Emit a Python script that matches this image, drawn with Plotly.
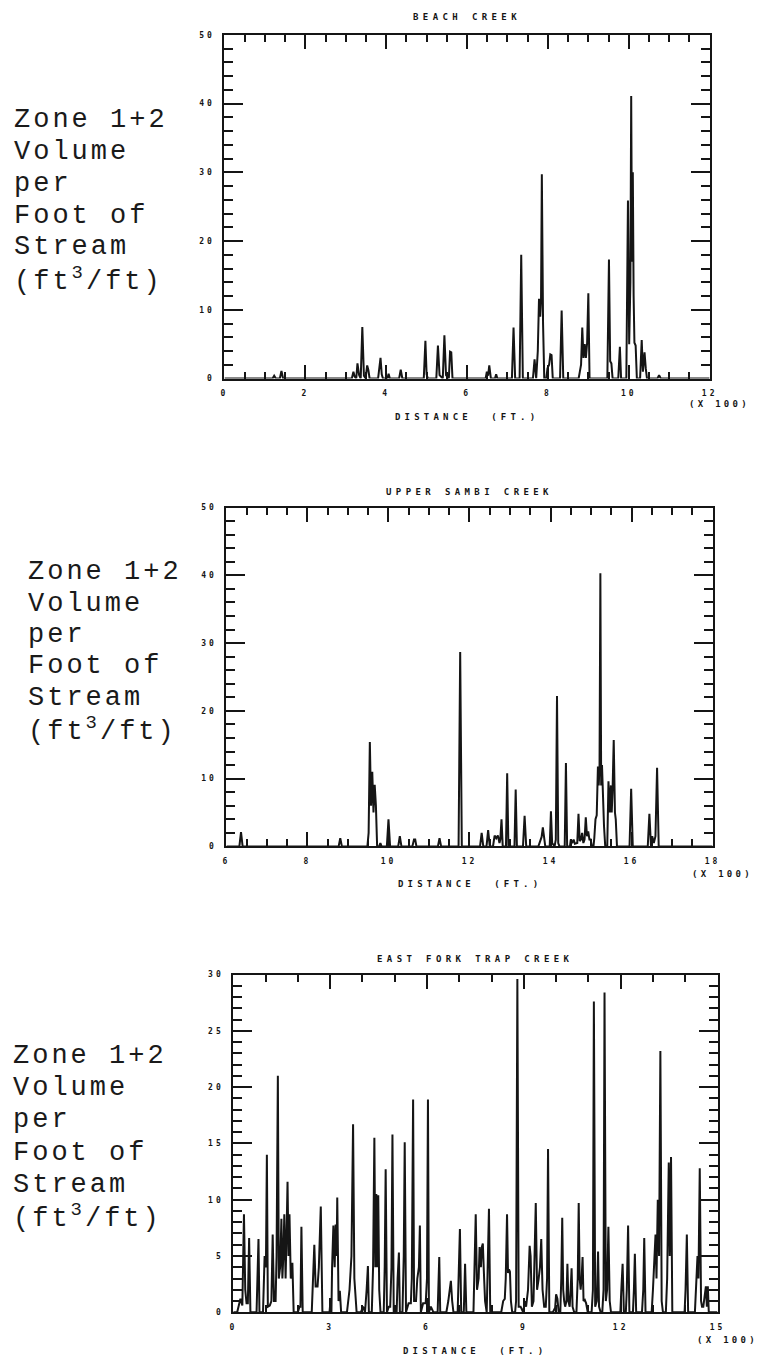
import plotly.graph_objects as go

W, H = 757, 1362
INK = "#151515"
PLOT_FONT = "DejaVu Sans Mono"
LABEL_FONT = "Liberation Mono"

# ---------------- BEACH CREEK (distance in ft, volume in ft3/ft) ----------------
beach_dist = [
    0,
    119, 123, 127,
    137, 141, 145,
    315, 319, 322, 326, 329, 333,
    337, 341, 345, 349, 353, 356, 359,
    380, 383, 386, 389, 392,
    403, 406, 409,
    432, 436, 440,
    493, 497, 500, 503,
    524, 528, 532, 540, 544, 548, 555, 558, 561, 564,
    646, 649, 652, 655, 659,
    669, 672, 675,
    711, 715, 719,
    730, 734, 738,
    763, 767, 771, 775, 778, 781, 783, 785, 788, 791,
    796, 799, 803, 806, 809, 812,
    830, 834, 838,
    876, 879, 882, 885, 888, 891, 894, 897, 900, 903,
    947, 951, 954, 957, 960,
    974, 978, 981,
    994, 998, 1001, 1004, 1006, 1008, 1010, 1012, 1014, 1017, 1020,
    1028, 1032, 1035, 1039, 1042, 1045,
    1071, 1075, 1079,
    1200,
]
beach_vol = [
    0,
    0, 0.4, 0,
    0, 1.1, 0,
    0, 1.0, 0.3, 0, 2.2, 0.5,
    0, 7.5, 0.4, 0, 1.9, 1.2, 0,
    0, 1.2, 3.0, 0.6, 0,
    0, 0.7, 0,
    0, 1.3, 0,
    0, 5.5, 0.6, 0,
    0, 4.8, 0.5, 0, 6.3, 0.5, 0, 3.9, 3.8, 0,
    0, 1.0, 0.4, 1.9, 0,
    0, 0.6, 0,
    0, 7.4, 0,
    0, 18.0, 0,
    0, 2.8, 0, 4.0, 11.6, 9.0, 11.3, 29.7, 8.0, 0,
    0, 1.5, 2.0, 3.5, 3.4, 0,
    0, 9.9, 0,
    0, 1.0, 2.0, 7.4, 3.0, 5.0, 3.0, 5.2, 12.4, 0,
    0, 17.3, 2.5, 2.2, 0,
    0, 4.6, 0,
    0, 25.9, 5.0, 14.0, 41.1, 17.0, 30.0, 12.0, 5.2, 4.8, 0,
    0, 5.6, 1.0, 3.8, 1.5, 0,
    0, 0.5, 0,
    0,
]

# ---------------- UPPER SAMBI CREEK ----------------
sambi_dist = [
    600,
    632, 636, 640,
    877, 881, 885,
    948, 951, 954, 957, 960, 963, 966, 969, 972,
    977, 980, 983,
    996, 1000, 1004,
    1024, 1028, 1032,
    1059, 1063, 1066, 1069,
    1122, 1126, 1130,
    1173, 1177, 1181,
    1226, 1230, 1234,
    1242, 1246, 1250,
    1258, 1262, 1266, 1270, 1274, 1276, 1279, 1282,
    1290, 1293, 1296,
    1311, 1314, 1317,
    1332, 1336, 1340,
    1370, 1374, 1378, 1381, 1384, 1387,
    1398, 1401, 1404, 1410, 1413, 1416, 1419, 1422,
    1435, 1438, 1441,
    1448, 1450, 1453, 1457, 1460, 1466, 1469, 1472, 1475, 1478, 1481, 1484, 1487, 1490, 1493, 1496, 1499, 1502,
    1506, 1508, 1511, 1514, 1517, 1519, 1521, 1523, 1525, 1527, 1529, 1532, 1535,
    1540, 1543, 1546, 1549, 1551, 1553, 1556, 1559, 1561, 1564,
    1595, 1599, 1603,
    1640, 1644, 1648, 1651, 1655, 1659, 1663, 1667,
    1800,
]
sambi_vol = [
    0,
    0, 2.1, 0,
    0, 1.2, 0,
    0, 2.0, 15.4, 6.0, 11.0, 5.0, 9.1, 6.0, 0,
    0, 0.5, 0,
    0, 4.0, 0,
    0, 1.5, 0,
    0, 1.0, 1.0, 0,
    0, 1.2, 0,
    0, 28.7, 0,
    0, 2.0, 0,
    0, 2.4, 0,
    0, 1.6, 1.2, 1.6, 0.5, 1.0, 4.0, 0,
    0, 10.8, 0,
    0, 8.4, 0,
    0, 4.5, 0,
    0, 0.8, 1.4, 2.8, 1.0, 0,
    0, 5.2, 0.5, 0, 1.0, 22.2, 0.5, 0,
    0, 12.3, 0,
    0, 1.0, 0.5, 1.0, 0.4, 0.5, 4.8, 0.8, 1.0, 2.0, 0.5, 1.0, 4.3, 1.5, 2.2, 1.0, 1.0, 0,
    0, 1.2, 4.0, 4.6, 11.8, 9.0, 12.0, 40.3, 9.0, 12.0, 8.0, 3.0, 0,
    0, 9.6, 5.0, 9.0, 5.0, 8.0, 15.7, 5.0, 4.0, 0,
    0, 8.5, 0,
    0, 4.8, 0, 1.5, 0.5, 1.5, 11.6, 0,
    0,
]

# ---------------- EAST FORK TRAP CREEK ----------------
trap_dist = [
    0, 12, 22, 28, 33, 37, 41, 45, 49, 53,
    72, 75, 78, 81,
    92, 97, 101, 104, 107, 113, 118, 122, 126, 131, 134, 138, 141, 145, 149, 152, 155, 158, 162, 165, 168, 171, 174, 178, 183, 187,
    200, 205, 208, 211, 215,
    243, 247, 251, 255, 261, 265, 271, 276,
    298, 301, 304, 306, 310, 314, 317, 320, 322, 326, 330, 334,
    352, 360, 366, 371, 375, 382,
    395, 402, 408, 413, 417, 420,
    429, 433, 437, 440, 443, 446, 449, 452, 456,
    466, 469, 472, 476, 482, 486, 490, 493, 497,
    506, 509, 513, 516, 524, 528, 531, 535, 543, 550, 553, 557, 560, 566, 570, 575, 578, 581, 588, 596, 600, 603, 606, 612, 620,
    633, 636, 638, 641,
    660, 666, 670, 674, 678, 682,
    695, 698, 702, 706, 714, 718, 722,
    744, 748, 751, 755, 760, 763, 767, 770, 773, 777, 780, 785, 788, 792, 796,
    830, 836, 841, 844, 848, 851, 854, 857, 860, 864,
    873, 876, 880, 884, 890, 898, 903, 907, 913, 918, 921, 925, 930, 937, 941, 946, 950, 954, 958, 963, 968, 972, 975, 979,
    990, 997, 1000, 1004, 1008, 1013, 1016, 1019, 1022, 1025, 1028, 1032, 1035, 1038, 1042, 1045, 1048, 1051, 1056,
    1063, 1067, 1070, 1073, 1076, 1079, 1082, 1085, 1089, 1093, 1098,
    1110, 1114, 1117, 1121, 1126, 1130, 1133, 1138,
    1143, 1147, 1150, 1154, 1158, 1162, 1166, 1170,
    1199, 1202, 1206, 1210, 1216, 1219, 1223, 1227, 1238, 1241, 1244, 1248, 1266, 1270, 1273, 1277,
    1296, 1300, 1304, 1308, 1311, 1315, 1319, 1323, 1327, 1331,
    1340, 1344, 1349, 1352, 1356, 1360,
    1398, 1401, 1405, 1409,
    1430, 1434, 1438, 1441, 1445, 1449, 1452, 1456, 1460, 1464, 1467, 1470, 1473,
    1500,
]
trap_vol = [
    0, 0, 1.2, 0.6, 8.7, 2.0, 0.8, 0.8, 6.6, 0,
    0, 5.2, 6.5, 0,
    0, 5.0, 4.0, 14.0, 0.5, 0.6, 1.0, 6.9, 1.0, 1.0, 5.0, 21.0, 3.0, 4.0, 8.3, 3.0, 5.0, 8.7, 3.0, 7.0, 11.6, 5.0, 8.7, 3.0, 4.4, 0,
    0, 0.5, 0.5, 7.6, 0,
    0, 3.0, 6.0, 2.3, 2.3, 4.0, 9.4, 0,
    0, 1.0, 0, 4.0, 7.7, 4.0, 7.8, 5.0, 10.2, 1.0, 1.9, 0,
    0, 2.0, 5.0, 16.7, 3.0, 0,
    0, 0.5, 0, 2.0, 4.1, 0,
    0, 4.0, 15.5, 4.0, 10.5, 4.0, 10.4, 2.0, 0,
    0, 4.0, 12.7, 0, 0.5, 0.5, 4.0, 15.8, 0,
    0, 3.0, 5.3, 0, 0, 5.0, 15.1, 0, 0.8, 0.8, 3.0, 18.9, 1.0, 1.0, 3.0, 4.0, 7.7, 0, 0.8, 0.8, 3.0, 18.9, 0, 0.5, 0,
    0, 3.0, 4.9, 0,
    0, 1.0, 2.0, 2.8, 1.0, 0,
    0, 4.0, 7.4, 0, 0, 4.3, 0,
    0, 4.0, 8.7, 2.0, 3.0, 5.8, 4.0, 5.8, 6.1, 3.0, 1.0, 0, 4.0, 9.2, 0,
    0, 1.0, 1.2, 3.0, 8.7, 3.5, 3.8, 3.6, 1.0, 0,
    0, 1.0, 29.6, 0.5, 0.5, 0, 1.0, 0.5, 2.0, 5.9, 5.0, 0.5, 1.0, 9.7, 2.0, 3.0, 4.0, 6.5, 2.0, 0.5, 0.5, 3.0, 14.5, 0,
    0, 0.4, 1.6, 1.2, 0, 0, 3.0, 8.4, 2.0, 1.0, 0.5, 1.0, 4.3, 1.0, 0.5, 2.0, 3.9, 0.5, 0,
    0, 3.0, 9.7, 3.0, 2.0, 3.0, 4.9, 1.0, 1.1, 0.8, 0,
    0, 2.0, 27.6, 0.5, 1.0, 5.4, 0.5, 0,
    0, 2.0, 28.4, 1.0, 2.0, 7.6, 1.0, 0,
    0, 2.0, 4.3, 0, 0, 2.0, 7.7, 0, 0, 2.0, 5.2, 0, 0, 2.0, 6.6, 0,
    0, 2.0, 4.0, 6.9, 3.0, 10.0, 5.0, 23.2, 1.0, 0,
    0, 3.0, 13.3, 5.0, 13.8, 0,
    0, 2.0, 6.9, 0,
    0, 2.0, 5.0, 3.0, 12.8, 1.0, 0.5, 0.5, 1.5, 2.3, 0.5, 2.3, 0,
    0,
]

assert len(beach_dist) == len(beach_vol)
assert len(sambi_dist) == len(sambi_vol)
assert len(trap_dist) == len(trap_vol)

# Tick values / labels (distance labels are in hundreds of feet)
beach_xticks = [0, 200, 400, 600, 800, 1000, 1200]
beach_xlabels = ["0", "2", "4", "6", "8", "10", "12"]
sambi_xticks = [600, 800, 1000, 1200, 1400, 1600, 1800]
sambi_xlabels = ["6", "8", "10", "12", "14", "16", "18"]
trap_xticks = [0, 300, 600, 900, 1200, 1500]
trap_xlabels = ["0", "3", "6", "9", "12", "15"]
vol50_ticks = [0, 10, 20, 30, 40, 50]
vol30_ticks = [0, 5, 10, 15, 20, 25, 30]

titles = ["BEACH CREEK", "UPPER SAMBI CREEK", "EAST FORK TRAP CREEK"]
ylabel_lines = ["Zone 1+2", "Volume", "per", "Foot of", "Stream", "(ft<sup>3</sup>/ft)"]


def spaced(s, px):
    return f'<span style="letter-spacing:{px}px">{s}</span>'


def px_x(x):
    return x / W


def px_y(y):
    return 1 - y / H


# plot boxes in page pixels: (left, right, top, bottom)
boxes = [(224, 717, 31, 377), (226, 720, 507, 848), (233, 725, 977, 1317)]

tick_font = dict(family=PLOT_FONT, size=8, color=INK, weight="bold")


def xaxis(box, rng, ticks, labels, minor, anchor):
    l, r, t, b = box
    return dict(
        domain=[px_x(l), px_x(r)], range=rng, anchor=anchor,
        showline=True, linewidth=2, linecolor=INK, mirror="allticks",
        ticks="inside", ticklen=14, tickwidth=2, tickcolor=INK,
        tickmode="array", tickvals=ticks, ticktext=[spaced(s, 3) for s in labels],
        tickfont=tick_font, ticklabelstandoff=6,
        minor=dict(dtick=minor, tick0=rng[0], ticks="inside", ticklen=7,
                   tickwidth=2, tickcolor=INK, showgrid=False),
        showgrid=False, zeroline=False, fixedrange=True,
    )


def yaxis(box, rng, ticks, minor, anchor):
    l, r, t, b = box
    return dict(
        domain=[px_y(b), px_y(t)], range=rng, anchor=anchor,
        showline=True, linewidth=2, linecolor=INK, mirror="allticks",
        ticks="inside", ticklen=19, tickwidth=2, tickcolor=INK,
        tickmode="array", tickvals=ticks, ticktext=[spaced(str(v), 3) for v in ticks],
        tickfont=tick_font, ticklabelstandoff=6,
        minor=dict(dtick=minor, tick0=0, ticks="inside", ticklen=9,
                   tickwidth=2, tickcolor=INK, showgrid=False),
        showgrid=False, zeroline=False, fixedrange=True,
    )


fig = go.Figure()
series = [(beach_dist, beach_vol, "x", "y"),
          (sambi_dist, sambi_vol, "x2", "y2"),
          (trap_dist, trap_vol, "x3", "y3")]
for xs, ys, xa, ya in series:
    fig.add_trace(go.Scatter(x=xs, y=ys, xaxis=xa, yaxis=ya, mode="lines",
                             line=dict(color=INK, width=2), hoverinfo="skip",
                             showlegend=False, cliponaxis=True))

fig.update_layout(
    width=W, height=H, margin=dict(l=0, r=0, t=0, b=0),
    paper_bgcolor="white", plot_bgcolor="white", showlegend=False,
    xaxis=xaxis(boxes[0], [0, 1200], beach_xticks, beach_xlabels, 50, "y"),
    yaxis=yaxis(boxes[0], [0, 50], vol50_ticks, 2, "x"),
    xaxis2=xaxis(boxes[1], [600, 1800], sambi_xticks, sambi_xlabels, 50, "y2"),
    yaxis2=yaxis(boxes[1], [0, 50], vol50_ticks, 2, "x2"),
    xaxis3=xaxis(boxes[2], [0, 1500], trap_xticks, trap_xlabels, 100, "y3"),
    yaxis3=yaxis(boxes[2], [0, 30], vol30_ticks, 1, "x3"),
)

annotations = []
plot_text = dict(family=PLOT_FONT, size=9, color=INK, weight="bold")
title_y = [13, 491, 961]
xtitle_y = [416, 886, 1356]
x100_y = [403, 876, 1345]
label_x = [8, 22, 7]
label_base = [124, 579, 1066]
label_step = [32, 31.6, 32.4]

for i, (l, r, t, b) in enumerate(boxes):
    cx = (l + r) / 2
    annotations.append(dict(text=spaced(titles[i], 4.4), x=px_x(cx), y=px_y(title_y[i]),
                            xref="paper", yref="paper", showarrow=False,
                            xanchor="center", yanchor="middle", font=plot_text))
    annotations.append(dict(text=spaced("DISTANCE  (FT.)", 4.2), x=px_x(cx), y=px_y(xtitle_y[i]),
                            xref="paper", yref="paper", showarrow=False,
                            xanchor="center", yanchor="middle", font=plot_text))
    annotations.append(dict(text=spaced("(X 100)", 3.3), x=px_x(r + 10), y=px_y(x100_y[i]),
                            xref="paper", yref="paper", showarrow=False,
                            xanchor="center", yanchor="middle", font=plot_text))
    for k, line in enumerate(ylabel_lines):
        base = label_base[i] + k * label_step[i]
        annotations.append(dict(text=spaced(line, 3), x=px_x(label_x[i]), y=px_y(base - 7),
                                xref="paper", yref="paper", showarrow=False,
                                xanchor="left", yanchor="middle",
                                font=dict(family=LABEL_FONT, size=27, color="#1a1a1a")))

fig.update_layout(annotations=annotations)
fig.write_html("out.html")
